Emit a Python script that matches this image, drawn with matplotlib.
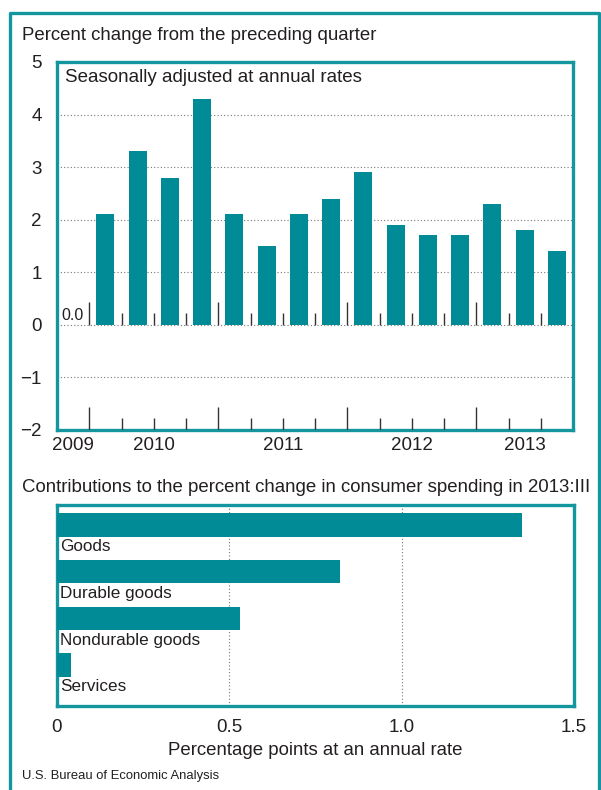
import matplotlib
matplotlib.use("Agg")
import matplotlib.pyplot as plt
from matplotlib.lines import Line2D
import numpy as np

plt.rcParams['font.family'] = ['Liberation Sans', 'DejaVu Sans']

# ---- data ----
quarters = ["2009Q4", "2010Q1", "2010Q2", "2010Q3", "2010Q4",
            "2011Q1", "2011Q2", "2011Q3", "2011Q4",
            "2012Q1", "2012Q2", "2012Q3", "2012Q4",
            "2013Q1", "2013Q2", "2013Q3"]
pct_change = [0.0, 2.1, 3.3, 2.8, 4.3, 2.1, 1.5, 2.1, 2.4,
              2.9, 1.9, 1.7, 1.7, 2.3, 1.8, 1.4]
year_labels = ["2009", "2010", "2011", "2012", "2013"]
yticks_top = [-2, -1, 0, 1, 2, 3, 4, 5]

components = ["Goods", "Durable goods", "Nondurable goods", "Services"]
contributions = [1.35, 0.82, 0.53, 0.04]
xticks_bottom = [0, 0.5, 1.0, 1.5]
xticklabels_bottom = ["0", "0.5", "1.0", "1.5"]

TEAL = "#008B96"
FRAME = "#14969E"
TXT = "#231F20"
GRID = "#777777"
W, H = 601, 790

fig = plt.figure(figsize=(W / 100, H / 100), dpi=100)

def fx(px):
    return px / W

def fy(py):
    return 1 - py / H

# outer frame (open at bottom)
fig.add_artist(Line2D([fx(10.5), fx(10.5), fx(598.5), fx(598.5)],
                      [fy(800), fy(12.5), fy(12.5), fy(800)],
                      transform=fig.transFigure, color=FRAME, lw=2.4))

# ---- top chart ----
ax = fig.add_axes([fx(57), fy(430), fx(573) - fx(57), fy(62) - fy(430)])
x = np.arange(len(quarters))
ax.bar(x[1:], pct_change[1:], width=0.56, color=TEAL, zorder=3)
ax.set_xlim(-0.5, len(quarters) - 0.5)
ax.set_ylim(-2, 5)
for yv in [-1, 0, 1, 2, 3, 4]:
    ax.axhline(yv, color=GRID, lw=0.8, ls=(0, (1, 2)), zorder=1)
ax.set_yticks(yticks_top)
ax.set_yticklabels([str(v).replace("-", "\u2212") for v in yticks_top])
ax.tick_params(axis='y', length=0, pad=11, labelsize=13.5, labelcolor=TXT)

# quarter boundary ticks
bounds = np.arange(0.5, len(quarters) - 0.5, 1.0)
year_bounds = {0.5, 4.5, 8.5, 12.5}
for b in bounds:
    long = b in year_bounds
    h = 0.44 if long else 0.23
    ax.vlines(b, -2, -2 + h, color="#333333", lw=1.0, zorder=4)
    ax.vlines(b, 0, h, color="#333333", lw=1.0, zorder=4)

ax.set_xticks([0, 2.5, 6.5, 10.5, 14])
ax.set_xticklabels(year_labels)
ax.tick_params(axis='x', length=0, pad=5, labelsize=13.5, labelcolor=TXT)
for s in ax.spines.values():
    s.set_color(FRAME)
    s.set_linewidth(2.4)

ax.text(-0.36, 0.03, "0.0", fontsize=11.5, color=TXT, va='bottom', ha='left')
ax.text(0.015, 0.982, "Seasonally adjusted at annual rates", transform=ax.transAxes,
        fontsize=13.5, color=TXT, va='top', ha='left')

fig.text(fx(22), fy(35), "Percent change from the preceding quarter",
         fontsize=13.4, color=TXT, va='center', ha='left')

# ---- bottom chart ----
ax2 = fig.add_axes([fx(57), fy(706), fx(574) - fx(57), fy(505) - fy(706)])
yb = np.arange(len(components))
ax2.barh(yb, contributions, height=0.5, color=TEAL, zorder=3, align='center')
ax2.set_xlim(0, 1.5)
ax2.set_ylim(3.88, -0.43)
for xv in [0.5, 1.0]:
    ax2.axvline(xv, color=GRID, lw=0.8, ls=(0, (1, 2)), zorder=1)
for i, name in enumerate(components):
    ax2.text(0.008, i + 0.47, name, fontsize=12.3, color=TXT, va='center', ha='left')
ax2.set_yticks([])
ax2.set_xticks(xticks_bottom)
ax2.set_xticklabels(xticklabels_bottom)
ax2.tick_params(axis='x', length=0, pad=9, labelsize=13.5, labelcolor=TXT)
for s in ax2.spines.values():
    s.set_color(FRAME)
    s.set_linewidth(2.4)
ax2.set_xlabel("Percentage points at an annual rate", fontsize=13.4, color=TXT, labelpad=5)

fig.text(fx(22), fy(488), "Contributions to the percent change in consumer spending in 2013:III",
         fontsize=13.4, color=TXT, va='center', ha='left')
fig.text(fx(22), fy(776), "U.S. Bureau of Economic Analysis",
         fontsize=9.4, color=TXT, va='center', ha='left',
         family=['Liberation Sans Narrow', 'Liberation Sans', 'DejaVu Sans'])

fig.savefig("out.png", dpi=100)
